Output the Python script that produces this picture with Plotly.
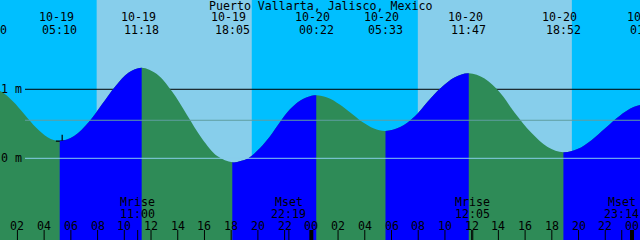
import plotly.graph_objects as go

# ---------------- data (hours since 10-19 00:00, metres) ----------------
title_text = "Puerto Vallarta, Jalisco, Mexico"

# tide curve
tide_t = [-0.100, 0.778, 1.656, 2.533, 3.411, 4.289, 5.167,
          6.240, 7.310, 8.330, 9.350, 10.330, 11.300,
          12.431, 13.561, 14.692, 15.822, 16.953, 18.083,
          18.700, 19.280, 20.160, 20.910, 21.710, 22.400, 23.150, 23.900, 24.367,
          25.231, 26.095, 26.959, 27.822, 28.686, 29.550,
          30.650, 31.730, 32.667, 33.706, 34.744, 35.783,
          36.964, 38.144, 39.220, 40.450, 41.686, 42.867,
          43.917, 44.967, 46.017, 47.067, 48.117, 49.167]
tide_h = [1.020, 0.968, 0.828, 0.636, 0.443, 0.303, 0.251,
          0.322, 0.517, 0.782, 1.048, 1.242, 1.313,
          1.221, 0.970, 0.628, 0.285, 0.034, -0.058,
          -0.040, 0.000, 0.150, 0.320, 0.540, 0.710, 0.835, 0.900, 0.913,
          0.878, 0.784, 0.655, 0.525, 0.431, 0.396,
          0.452, 0.605, 0.814, 1.023, 1.176, 1.232,
          1.155, 0.946, 0.660, 0.373, 0.164, 0.087,
          0.134, 0.263, 0.439, 0.614, 0.743, 0.790]

# high / low tide labels
event_t = [-0.10, 5.167, 11.300, 18.083, 24.367, 29.550, 35.783, 42.867, 49.167]
event_date = ["", "10-19", "10-19", "10-19", "10-20", "10-20", "10-20", "10-20", "10-21"]
event_time = ["23:50", "05:10", "11:18", "18:05", "00:22", "05:33", "11:47", "18:52", "01:10"]

# daylight intervals
day_start = [7.93, 31.97]
day_end = [19.54, 43.50]

# moon events
moon_t = [11.000, 22.317, 36.083, 47.233]
moon_name = ["Mrise", "Mset", "Mrise", "Mset"]
moon_time = ["11:00", "22:19", "12:05", "23:14"]

# hour ticks
hour_ticks = list(range(2, 49, 2))

# reference levels
grid_levels = [1.0]
grid_labels = ["1 m"]
msl_level = 0.551
datum_level = 0.0
datum_label = "0 m"

now_t = [5.35]
now_h = [0.25]

# ---------------- layout constants ----------------
W, H = 640, 240
t0, t1 = 0.696, 48.60
ymin, ymax = -1.184, 2.294
pxph = W / (t1 - t0)
label_left_t = t0 + 25 / pxph   # reference lines start after the y labels

NIGHT = "#00BFFF"
DAY = "#87CEEB"
FLOOD = "#0000FF"
EBB = "#2E8B57"
MSL_C = "#5F9EA0"
DATUM_C = "#87CEEB"
FONT = dict(family="DejaVu Sans Mono", size=11.6, color="black")

fig = go.Figure()
base_x = [min(tide_t), max(tide_t)]
base_y = [ymin - 1, ymin - 1]


def tide_pair(color, xaxis="x"):
    fig.add_trace(go.Scatter(x=base_x, y=base_y, mode="lines", xaxis=xaxis, yaxis="y",
                             line=dict(width=0, color=color), hoverinfo="skip",
                             showlegend=False))
    fig.add_trace(go.Scatter(x=tide_t, y=tide_h, mode="lines", fill="tonexty",
                             fillcolor=color, xaxis=xaxis, yaxis="y",
                             line=dict(width=0, color=color, shape="spline", smoothing=1.0),
                             hoverinfo="skip", showlegend=False))


# ebb colour for the whole curve
tide_pair(EBB)

# flood colour: the same curve drawn on x-axes whose domain covers only rising stretches
ext = [tide_t[i] for i in range(1, len(tide_t) - 1)
       if (tide_h[i] - tide_h[i - 1]) * (tide_h[i + 1] - tide_h[i]) < 0]
edges = [tide_t[0]] + ext + [tide_t[-1]]
extra_axes = {}
n = 2
for a, b in zip(edges[:-1], edges[1:]):
    ha = tide_h[tide_t.index(a)]
    hb = tide_h[tide_t.index(b)]
    if hb <= ha:
        continue
    ra, rb = max(a, t0), min(b, t1)
    if rb <= ra:
        continue
    d0 = (ra - t0) / (t1 - t0)
    d1 = (rb - t0) / (t1 - t0)
    extra_axes[f"xaxis{n}"] = dict(domain=[d0, d1], range=[ra, rb], visible=False,
                                   fixedrange=True, anchor="y")
    tide_pair(FLOOD, xaxis=f"x{n}")
    n += 1

fig.add_trace(go.Scatter(x=now_t, y=now_h, mode="markers",
                         marker=dict(symbol="cross-thin", size=9,
                                     line=dict(width=1.2, color="black")),
                         hoverinfo="skip", showlegend=False))

shapes = []
# daylight
for a, b in zip(day_start, day_end):
    shapes.append(dict(type="rect", xref="x", yref="paper", x0=a, x1=b, y0=0, y1=1,
                       fillcolor=DAY, line=dict(width=0), layer="below"))
# gridline under tide
for lv in grid_levels:
    shapes.append(dict(type="line", xref="x", yref="y", x0=label_left_t, x1=t1, y0=lv, y1=lv,
                       line=dict(color="black", width=1), layer="below"))
# msl / datum lines above tide
shapes.append(dict(type="line", xref="x", yref="y", x0=label_left_t, x1=t1, y0=msl_level,
                   y1=msl_level, line=dict(color=MSL_C, width=1), layer="above"))
shapes.append(dict(type="line", xref="x", yref="y", x0=label_left_t, x1=t1, y0=datum_level,
                   y1=datum_level, line=dict(color=DATUM_C, width=1), layer="above"))
# hour ticks
tick_h = 10 / H
for t in hour_ticks:
    w = 4 if t % 24 == 0 else 1
    shapes.append(dict(type="line", xref="x", yref="paper", x0=t, x1=t, y0=0, y1=tick_h,
                       line=dict(color="black", width=w), layer="above"))
for t in moon_t:
    shapes.append(dict(type="line", xref="x", yref="paper", x0=t, x1=t, y0=0, y1=tick_h,
                       line=dict(color="black", width=1), layer="above"))

ann = []


def place(t):
    """anchor within the axis range, shifting in pixels when outside"""
    xa = min(max(t, t0), t1)
    return xa, (t - xa) * pxph


def ypaper(px):
    return 1 - px / H


def text(s, **kw):
    d = dict(text=s, showarrow=False, font=FONT, borderpad=0, xanchor="center",
             yanchor="middle")
    d.update(kw)
    ann.append(d)


text(title_text, xref="paper", yref="paper", x=0.5, y=ypaper(5.5))

for t, d, tm in zip(event_t, event_date, event_time):
    xa, sh = place(t)
    if d:
        text(d, xref="x", yref="paper", x=xa, xshift=sh - 3.5, y=ypaper(17.5))
    text("\u00a0" + tm, xref="x", yref="paper", x=xa, xshift=sh - 3.5, y=ypaper(29.5))

for t in hour_ticks:
    text(f"{t % 24:02d}", xref="x", yref="paper", x=t, y=ypaper(225.5))

for t, nm, tm in zip(moon_t, moon_name, moon_time):
    text(nm, xref="x", yref="paper", x=t, y=ypaper(202))
    text(tm, xref="x", yref="paper", x=t, y=ypaper(213.5))

for lv, lb in zip(grid_levels + [datum_level], grid_labels + [datum_label]):
    text(lb, xref="paper", yref="y", x=0, y=lv, xanchor="left")

fig.update_layout(
    width=W, height=H, margin=dict(l=0, r=0, t=0, b=0),
    paper_bgcolor=NIGHT, plot_bgcolor="rgba(0,0,0,0)",
    xaxis=dict(range=[t0, t1], visible=False, fixedrange=True),
    yaxis=dict(range=[ymin, ymax], visible=False, fixedrange=True),
    shapes=shapes, annotations=ann, showlegend=False,
    **extra_axes,
)

fig.write_html("out.html")
